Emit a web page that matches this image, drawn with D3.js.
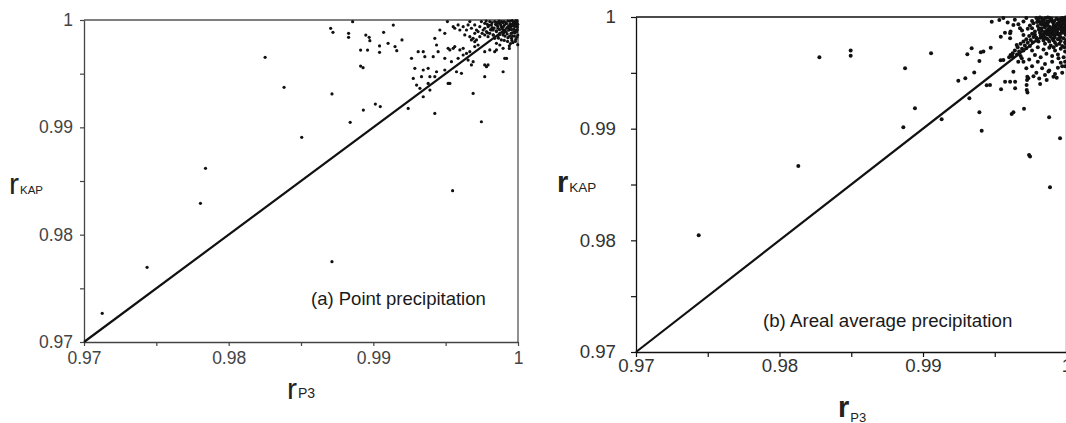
<!DOCTYPE html>
<html>
<head>
<meta charset="utf-8">
<script src="https://cdn.jsdelivr.net/npm/d3@7"></script>
<style>
  body { margin: 0; background: #fff; }
  svg { display: block; font-family: "Liberation Sans", Arial, sans-serif; }
</style>
</head>
<body>
<svg id="chart" width="1066" height="423"></svg>
<script>
// tick positions shared by both panels
const axisTicks = [0.97, 0.975, 0.98, 0.985, 0.99, 0.995, 1];
const labelledTicks = [0.97, 0.98, 0.99, 1];

// (a) point precipitation: [r_P3, r_KAP]
const pointPrecip = [
  [0.97126,0.97267],[0.97436,0.97696],[0.97805,0.98292],[0.97840,0.98618],[0.98252,0.99652],[0.98383,0.99373],
  [0.98505,0.98907],[0.98714,0.99311],[0.98714,0.97748],[0.98705,0.99922],[0.98721,0.99885],[0.98840,0.99047],
  [0.98857,0.99984],[0.98829,0.99876],[0.98829,0.99839],[0.98931,0.99161],[0.98912,0.99571],[0.98929,0.99556],
  [0.98912,0.99720],[0.98960,0.99720],[0.98948,0.99860],[0.98971,0.99839],[0.98976,0.99807],[0.99014,0.99217],
  [0.99048,0.99193],[0.99043,0.99758],[0.99043,0.99699],[0.99071,0.99885],[0.99138,0.99953],[0.99102,0.99783],
  [0.99150,0.99752],[0.99162,0.99714],[0.99198,0.99814],[0.99548,0.98410],
  [0.99512,0.99985],[0.99552,0.99938],[0.99563,0.99923],[0.99586,0.99954],[0.99598,0.99907],[0.99621,0.99938],
  [0.99644,0.99907],[0.99655,0.99954],[0.99678,0.99923],[0.99701,0.99954],[0.99713,0.99907],[0.99736,0.99938],
  [0.99759,0.99907],[0.99770,0.99969],[0.99793,0.99938],[0.99816,0.99954],[0.99828,0.99907],[0.99851,0.99954],
  [0.99862,0.99923],[0.99874,0.99969],[0.99885,0.99938],[0.99897,0.99907],[0.99839,0.99985],[0.99805,0.99985],
  [0.99747,0.99985],[0.99667,0.99985],
  [0.99782,0.99892],[0.99805,0.99876],[0.99828,0.99861],[0.99851,0.99892],[0.99874,0.99876],[0.99897,0.99861],
  [0.99793,0.99845],[0.99839,0.99829],[0.99862,0.99845],[0.99885,0.99814],[0.99816,0.99907],[0.99770,0.99923],
  [0.99908,0.99892],[0.99903,0.99985],[0.99821,0.99929],[0.99788,0.99960],[0.99857,0.99979],[0.99752,0.99876],
  [0.99724,0.99892],[0.99701,0.99876],[0.99851,0.99783],[0.99874,0.99767],
  [0.99460,0.99907],[0.99494,0.99876],[0.99632,0.99861],[0.99667,0.99845],[0.99690,0.99829],[0.99713,0.99814],
  [0.99736,0.99845],[0.99770,0.99861],[0.99678,0.99814],[0.99701,0.99798],[0.99425,0.99829],[0.99437,0.99767],
  [0.99517,0.99736],[0.99529,0.99721],[0.99552,0.99736],[0.99563,0.99752],[0.99598,0.99721],[0.99621,0.99736],
  [0.99644,0.99689],[0.99667,0.99705],[0.99701,0.99752],[0.99724,0.99767],[0.99770,0.99705],[0.99805,0.99721],
  [0.99839,0.99705],[0.99851,0.99721],[0.99897,0.99736],
  [0.99264,0.99643],[0.99310,0.99705],[0.99345,0.99705],[0.99356,0.99658],[0.99414,0.99658],[0.99448,0.99705],
  [0.99494,0.99643],[0.99540,0.99612],[0.99586,0.99643],[0.99621,0.99674],[0.99655,0.99627],[0.99690,0.99612],
  [0.99770,0.99581],[0.99793,0.99581],[0.99908,0.99643],[0.99287,0.99550],[0.99345,0.99534],[0.99379,0.99550],
  [0.99437,0.99518],[0.99494,0.99534],[0.99575,0.99518],[0.99609,0.99503],[0.99678,0.99581],[0.99782,0.99565],
  [0.99770,0.99472],[0.99897,0.99518],[0.99276,0.99456],[0.99333,0.99472],[0.99391,0.99472],[0.99425,0.99472],
  [0.99529,0.99409],[0.99299,0.99394],[0.99322,0.99363],[0.99379,0.99409],[0.99391,0.99347],[0.99517,0.99409],
  [0.99345,0.99285],[0.99690,0.99316],[0.99425,0.99130],[0.99747,0.99052],[0.99241,0.99176],
  [0.99940,0.99735],[0.99921,0.99642],
  [0.99930,0.99990],[0.99950,0.99960],[0.99965,0.99985],[0.99980,0.99940],[0.99990,0.99970],[0.99995,0.99910],
  [0.99940,0.99920],[0.99960,0.99880],[0.99975,0.99850],[0.99925,0.99870],[0.99985,0.99995],[0.99945,0.99990],
  [0.99998,0.99860],[0.99935,0.99945],[0.99970,0.99915],[0.99990,0.99890],[0.99955,0.99830],[0.99985,0.99820],
  [0.99930,0.99835],[0.99965,0.99790],[0.99998,0.99770],[0.99940,0.99760],[0.99975,0.99960],[0.99920,0.99965],
  [0.99950,0.99935],[0.99910,0.99900],[0.99905,0.99950],
  [0.99820,0.99975],[0.99845,0.99960],[0.99870,0.99990],[0.99880,0.99955],[0.99895,0.99975],[0.99860,0.99940],
  [0.99835,0.99925],[0.99890,0.99920],[0.99900,0.99880],[0.99850,0.99900],[0.99875,0.99865],[0.99830,0.99860],
  [0.99910,0.99850],[0.99865,0.99830],[0.99905,0.99810],[0.99800,0.99950],[0.99810,0.99910],[0.99790,0.99880],
  [0.99780,0.99990],
  [0.99915,0.99975],[0.99925,0.99930],[0.99935,0.99905],[0.99945,0.99965],[0.99955,0.99910],[0.99960,0.99995],
  [0.99968,0.99945],[0.99972,0.99890],[0.99978,0.99975],[0.99982,0.99905],[0.99988,0.99950],[0.99992,0.99985],
  [0.99996,0.99935],[0.99998,0.99960],[0.99952,0.99875],[0.99962,0.99850],[0.99978,0.99880],[0.99992,0.99840],
  [0.99942,0.99850],[0.99918,0.99890],[0.99898,0.99935],[0.99886,0.99985],[0.99872,0.99910],[0.99858,0.99965],
  [0.99982,0.99800],[0.99958,0.99810],[0.99928,0.99800],[0.99948,0.99780]
];

// (b) areal average precipitation: [r_P3, r_KAP]
const arealPrecip = [
  [0.97437,0.98045],[0.98131,0.98666],[0.98278,0.99639],[0.98496,0.99699],[0.98496,0.99654],[0.98875,0.99540],
  [0.98863,0.99012],[0.98944,0.99182],[0.99056,0.99675],[0.99130,0.99084],[0.99246,0.99430],[0.99295,0.99451],
  [0.99309,0.99666],[0.99339,0.99720],[0.99323,0.99272],[0.99357,0.99502],[0.99393,0.99146],[0.99409,0.98982],
  [0.99393,0.99606],[0.99403,0.99684],[0.99444,0.99388],[0.99472,0.99725],[0.99479,0.99958],[0.99885,0.98475],
  [0.99630,0.99929],[0.99542,0.99824],[0.99607,0.99809],[0.99607,0.99854],[0.99700,0.99839],[0.99676,0.99899],
  [0.99421,0.99690],[0.99560,0.99615],[0.99653,0.99750],[0.99625,0.99645],[0.99467,0.99391],[0.99544,0.99353],
  [0.99572,0.99421],[0.99607,0.99421],[0.99642,0.99421],[0.99642,0.99361],[0.99723,0.99347],[0.99728,0.99323],
  [0.99734,0.99451],[0.99816,0.99400],[0.99862,0.99436],[0.99909,0.99466],[0.99932,0.99457],[0.99944,0.99630],
  [0.99874,0.99511],[0.99618,0.99132],[0.99630,0.99147],[0.99704,0.99179],[0.99879,0.99102],[0.99955,0.98914],
  [0.99739,0.98765],[0.99746,0.98750],
  [0.99630,0.99510],[0.99664,0.99600],[0.99688,0.99630],[0.99571,0.99860],[0.99532,0.99973],[0.99541,0.99612],
  [0.99722,0.99391],[0.99725,0.99435],[0.99727,0.99465],[0.99970,0.99560],[0.99990,0.99600],
  [0.99790,0.99990],[0.99810,0.99960],[0.99830,0.99985],[0.99850,0.99945],[0.99870,0.99995],[0.99890,0.99970],
  [0.99910,0.99940],[0.99930,0.99985],[0.99950,0.99955],[0.99970,0.99990],[0.99990,0.99965],[0.99800,0.99920],
  [0.99825,0.99900],[0.99845,0.99925],[0.99865,0.99880],[0.99885,0.99910],[0.99905,0.99890],[0.99925,0.99920],
  [0.99945,0.99895],[0.99965,0.99930],[0.99985,0.99905],[0.99815,0.99860],[0.99835,0.99840],[0.99855,0.99870],
  [0.99875,0.99845],[0.99895,0.99860],[0.99915,0.99835],[0.99935,0.99865],[0.99955,0.99850],[0.99975,0.99875],
  [0.99995,0.99840],[0.99820,0.99815],[0.99840,0.99790],[0.99860,0.99810],[0.99880,0.99780],[0.99900,0.99805],
  [0.99920,0.99770],[0.99940,0.99800],[0.99960,0.99785],[0.99980,0.99810],[0.99998,0.99790],[0.99850,0.99760],
  [0.99890,0.99745],[0.99930,0.99750],[0.99970,0.99740],[0.99995,0.99760],[0.99795,0.99955],[0.99815,0.99995],
  [0.99842,0.99968],[0.99862,0.99935],[0.99882,0.99990],[0.99902,0.99958],[0.99922,0.99905],[0.99942,0.99975],
  [0.99962,0.99912],[0.99982,0.99945],[0.99997,0.99985],[0.99808,0.99885],[0.99828,0.99935],[0.99848,0.99852],
  [0.99868,0.99960],[0.99888,0.99828],[0.99908,0.99870],[0.99928,0.99848],[0.99948,0.99925],[0.99968,0.99858],
  [0.99988,0.99880],[0.99838,0.99818],[0.99878,0.99900],[0.99918,0.99818],[0.99958,0.99822],[0.99998,0.99915],
  [0.99640,0.99700],[0.99660,0.99730],[0.99680,0.99760],[0.99700,0.99780],[0.99720,0.99800],[0.99740,0.99830],
  [0.99760,0.99850],[0.99780,0.99870],[0.99670,0.99690],[0.99690,0.99715],[0.99710,0.99745],[0.99730,0.99770],
  [0.99750,0.99795],[0.99770,0.99820],[0.99655,0.99665],[0.99700,0.99700],[0.99745,0.99740],[0.99790,0.99790],
  [0.99720,0.99720],[0.99765,0.99775],[0.99625,0.99675],[0.99610,0.99660],[0.99600,0.99640],
  [0.99560,0.99990],[0.99590,0.99950],[0.99640,0.99975],[0.99665,0.99935],[0.99700,0.99960],[0.99720,0.99990],
  [0.99745,0.99925],[0.99760,0.99965],[0.99690,0.99880],[0.99730,0.99895],[0.99610,0.99870],
  [0.99760,0.99700],[0.99800,0.99730],[0.99840,0.99710],[0.99880,0.99725],[0.99920,0.99700],[0.99960,0.99715],
  [0.99990,0.99690],[0.99780,0.99660],[0.99820,0.99640],[0.99860,0.99670],[0.99900,0.99650],[0.99940,0.99665],
  [0.99980,0.99640],[0.99740,0.99620],[0.99800,0.99600],[0.99850,0.99580],[0.99900,0.99600],[0.99960,0.99590],
  [0.99760,0.99560],[0.99830,0.99540],[0.99880,0.99520],[0.99940,0.99545],[0.99990,0.99560],[0.99790,0.99500],
  [0.99850,0.99480],[0.99920,0.99490],[0.99700,0.99600],[0.99720,0.99540],[0.99680,0.99650],[0.99810,0.99450],
  [0.99770,0.99470],[0.99970,0.99500],
  [0.99800,0.99975],[0.99820,0.99940],[0.99835,0.99965],[0.99855,0.99990],[0.99875,0.99955],[0.99895,0.99985],
  [0.99915,0.99965],[0.99935,0.99940],[0.99955,0.99980],[0.99975,0.99955],[0.99992,0.99995],[0.99810,0.99895],
  [0.99830,0.99875],[0.99850,0.99905],[0.99870,0.99925],[0.99890,0.99890],[0.99910,0.99915],[0.99930,0.99880],
  [0.99950,0.99915],[0.99970,0.99895],[0.99990,0.99925],[0.99820,0.99835],[0.99845,0.99820],[0.99865,0.99845],
  [0.99885,0.99865],[0.99905,0.99845],[0.99925,0.99870],[0.99945,0.99840],[0.99965,0.99880],[0.99985,0.99860],
  [0.99870,0.99800],[0.99910,0.99790],[0.99950,0.99810],[0.99990,0.99775],[0.99760,0.99900],[0.99770,0.99945],
  [0.99780,0.99840],[0.99790,0.99815],[0.99805,0.99780],[0.99910,0.99730],[0.99950,0.99760],[0.99985,0.99730]
];

const panels = [
  {
    data: pointPrecip, note: "(a) Point precipitation",
    left: 84, right: 518, top: 20, bottom: 342,
    frame: "#555", axisColor: "#444", axisWidth: 1.3, tick: 4,
    labelSize: 17.5, labelColor: "#444", xPad: 6, yPad: 7,
    dotR: 1.6, noteX: 311, noteY: 305, noteSize: 18.5,
    yTitle: {x: 9, y: 193.5, weight: "normal", size: 30, sub: "KAP", subSize: 11.5},
    xTitle: {x: 287, y: 399, weight: "normal", size: 30, sub: "P3", subSize: 14, subDy: -1}
  },
  {
    data: arealPrecip, note: "(b) Areal average precipitation",
    left: 636, right: 1066.5, top: 17, bottom: 352,
    frame: "#111", axisColor: "#111", axisWidth: 1.3, tick: 5,
    labelSize: 18.7, labelColor: "#333", xPad: 1.5, yPad: 15,
    dotR: 2, noteX: 763, noteY: 327, noteSize: 18.7,
    yTitle: {x: 557, y: 192, weight: "bold", size: 29, sub: "KAP", subSize: 13.5},
    xTitle: {x: 838, y: 417, weight: "bold", size: 29, sub: "P3", subSize: 13, subDy: 4.5}
  }
];

const svg = d3.select("#chart");

function tickText(d) {
  if (!labelledTicks.includes(d)) return "";
  return d === 1 ? "1" : d3.format(".2f")(d);
}

function drawPanel(p) {
  const x = d3.scaleLinear().domain([0.97, 1]).range([p.left, p.right]);
  const y = d3.scaleLinear().domain([0.97, 1]).range([p.bottom, p.top]);
  const g = svg.append("g");

  // top + right border of the box
  g.append("path")
    .attr("d", `M${x(0.97)},${y(1)}H${x(1)}V${y(0.97)}`)
    .attr("fill", "none")
    .attr("stroke", p.frame)
    .attr("stroke-width", 1.3);

  const xAxis = g.append("g")
    .attr("transform", `translate(0,${p.bottom})`)
    .call(d3.axisBottom(x).tickValues(axisTicks).tickSize(p.tick).tickSizeOuter(0)
      .tickPadding(p.xPad).tickFormat(tickText));

  const yAxis = g.append("g")
    .attr("transform", `translate(${p.left},0)`)
    .call(d3.axisLeft(y).tickValues(axisTicks).tickSize(p.tick).tickSizeOuter(0)
      .tickPadding(p.yPad).tickFormat(tickText));

  [xAxis, yAxis].forEach(a => {
    a.select(".domain").attr("stroke", p.axisColor).attr("stroke-width", p.axisWidth);
    a.selectAll(".tick line").attr("stroke", p.axisColor).attr("stroke-width", 1.2);
    a.selectAll(".tick text")
      .attr("fill", p.labelColor)
      .attr("font-size", p.labelSize)
      .attr("font-family", "Liberation Sans, Arial, sans-serif");
  });

  // 1:1 line
  g.append("line")
    .attr("x1", x(0.97)).attr("y1", y(0.97))
    .attr("x2", x(1)).attr("y2", y(1))
    .attr("stroke", "#111")
    .attr("stroke-width", 2.2);

  g.append("g")
    .selectAll("circle")
    .data(p.data)
    .join("circle")
    .attr("cx", d => x(d[0]))
    .attr("cy", d => y(d[1]))
    .attr("r", p.dotR)
    .attr("fill", "#111");

  g.append("text")
    .attr("x", p.noteX)
    .attr("y", p.noteY)
    .attr("font-size", p.noteSize)
    .attr("fill", "#1a1a1a")
    .text(p.note);

  [p.yTitle, p.xTitle].forEach(t => {
    const txt = g.append("text")
      .attr("x", t.x)
      .attr("y", t.y)
      .attr("fill", "#222");
    txt.append("tspan")
      .attr("font-size", t.size)
      .attr("font-weight", t.weight)
      .text("r");
    txt.append("tspan")
      .attr("font-size", t.subSize)
      .attr("dy", t.subDy || 0)
      .attr("dx", 1)
      .text(t.sub);
  });
}

panels.forEach(drawPanel);
</script>
</body>
</html>
